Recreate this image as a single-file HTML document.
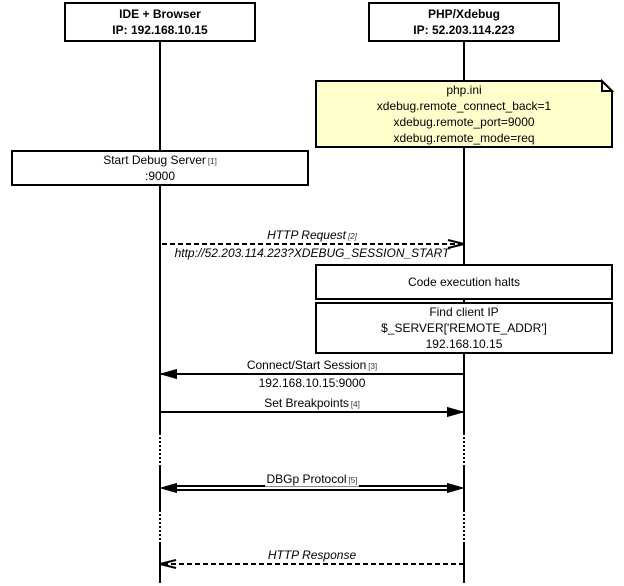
<!DOCTYPE html>
<html><head><meta charset="utf-8"><style>
html,body{margin:0;padding:0;background:#fff}
svg{display:block}
text{font-family:"Liberation Sans",sans-serif;font-size:12px;fill:#000;text-anchor:middle}
.b{font-weight:bold}.i{font-style:italic}
.s{font-size:8px;fill:#333}
</style></head><body>
<svg width="624" height="586" viewBox="0 0 624 586" xmlns="http://www.w3.org/2000/svg">
<g stroke="#000" stroke-width="2" fill="none">
<path d="M160 41V433M160 467V510M160 543V583M464 41V433M464 467V510M464 543V583"/>
<path d="M160 433V467M160 510V543M464 433V467M464 510V543" stroke-dasharray="2 2"/>
</g>
<g stroke="#000" stroke-width="2" fill="#fff">
<rect x="65" y="3" width="190" height="38"/>
<rect x="369" y="3" width="190" height="38"/>
<path d="M316 81H602L612 91V147H316Z" fill="#ffffcc"/>
<path d="M602 81V91H612Z" fill="#fff"/>
<rect x="12" y="151" width="296" height="34"/>
<rect x="316" y="265" width="296" height="34"/>
<rect x="316" y="303" width="296" height="50"/>
</g>
<g stroke="#000" stroke-width="2" fill="none">
<path d="M160 244H462" stroke-dasharray="5 3" stroke-dashoffset="-2"/>
<path d="M448 240L464 244L448 248"/>
<path d="M464 374H160M160 412H464"/>
<path d="M174 486H450M174 490H450"/>
<path d="M464 564H164" stroke-dasharray="5 3"/>
<path d="M176 560L160 564L176 568"/>
</g>
<g fill="#000" stroke="#000" stroke-width="1">
<path d="M161 374L176.500 369.500V378.500Z"/>
<path d="M463 412L447.500 407.500V416.500Z"/>
<path d="M161 488L176.500 483.500V492.500Z"/>
<path d="M463 488L447.500 483.500V492.500Z"/>
</g>
<rect x="265" y="472" width="94" height="14" fill="#fff"/>
<path d="M265 486.500H359" stroke="#888" stroke-width="1"/>
<text class="b" x="160" y="18">IDE + Browser</text>
<text class="b" x="160" y="34">IP: 192.168.10.15</text>
<text class="b" x="464" y="18">PHP/Xdebug</text>
<text class="b" x="464" y="34">IP: 52.203.114.223</text>
<text x="464" y="94">php.ini</text>
<text x="464" y="110">xdebug.remote_connect_back=1</text>
<text x="464" y="126">xdebug.remote_port=9000</text>
<text x="464" y="142">xdebug.remote_mode=req</text>
<text x="160" y="164">Start Debug Server<tspan class="s" dx="2" dy="0">[1]</tspan></text>
<text x="160" y="180">:9000</text>
<text class="i" x="312" y="239">HTTP Request<tspan class="s" dx="2">[2]</tspan></text>
<text class="i" x="312" y="257">http://52.203.114.223?XDEBUG_SESSION_START</text>
<text x="464" y="286">Code execution halts</text>
<text x="464" y="316">Find client IP</text>
<text x="464" y="332">$_SERVER['REMOTE_ADDR']</text>
<text x="464" y="348">192.168.10.15</text>
<text x="312" y="369">Connect/Start Session<tspan class="s" dx="2">[3]</tspan></text>
<text x="312" y="387">192.168.10.15:9000</text>
<text x="312" y="407">Set Breakpoints<tspan class="s" dx="2">[4]</tspan></text>
<text x="312" y="483">DBGp Protocol<tspan class="s" dx="2">[5]</tspan></text>
<text class="i" x="312" y="559">HTTP Response</text>
</svg>
</body></html>
